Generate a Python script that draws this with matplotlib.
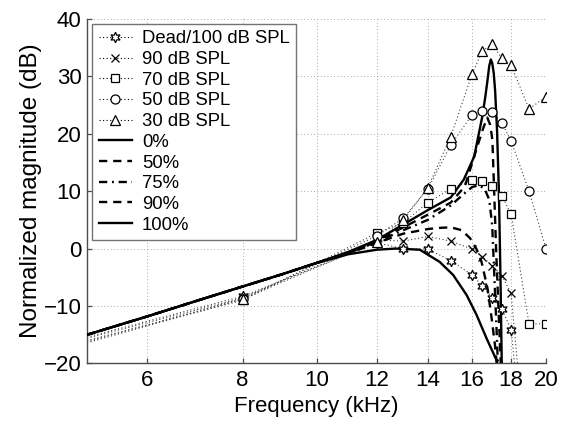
import numpy as np
import matplotlib
matplotlib.use('Agg')
import matplotlib.pyplot as plt
from matplotlib.ticker import FixedLocator, NullLocator

plt.rcParams['font.family'] = ['Liberation Sans', 'DejaVu Sans']

# measured points (kHz, dB)
f_meas = [8, 12, 13, 14, 15, 16, 16.5, 17, 17.5, 18, 19, 20]
dead = [-8.3, 1.0, 0.0, -0.1, -2.1, -4.6, -6.5, -8.6, -10.5, -14.1]
spl90 = [-8.6, 1.5, 1.3, 2.1, 1.3, -0.1, -1.4, -3.0, -4.7, -7.8]
spl70 = [-9.0, 2.7, 4.5, 8.0, 10.4, 11.9, 11.7, 10.8, 9.2, 6.0, -13.1, -13.1]
spl50 = [-8.7, 2.2, 5.3, 10.4, 18.0, 23.3, 24.0, 23.7, 21.9, 18.7, 10.0, 0.0]
spl30 = [-8.8, 1.2, 5.0, 10.6, 19.5, 30.4, 34.4, 35.6, 33.1, 31.9, 24.3, 26.4]

# where the dotted lines leave the left edge / run off the bottom
f_edge = 5
edge_dead, edge90, edge70, edge50, edge30 = -15.4, -15.6, -16.0, -16.2, -16.4
tail_dead = (18.25, -22)
tail90 = (18.4, -22)

# model curves
f_m0 = [5, 6, 7, 8, 9, 10, 11, 12, 13, 14, 15, 15.6, 16.1, 16.5, 16.65, 16.76,
        16.85, 16.93, 17.0, 17.08, 17.15, 17.25, 17.35, 17.43, 17.5]
m0 = [-15, -11.8, -9.0, -6.6, -4.5, -2.5, -0.6, 1.5, 4.2, 6.7, 8.9, 12.0, 16.0,
      23.0, 26.4, 29.3, 31.8, 32.9, 32.3, 30.5, 27.5, 20.6, 9.5, -5, -20.5]

f_m50 = [5, 6, 7, 8, 9, 10, 11, 12, 13, 14, 15, 15.65, 16.0, 16.3, 16.55,
         16.75, 16.9, 17.01, 17.1, 17.2, 17.32, 17.45]
m50 = [-15, -11.8, -9.0, -6.6, -4.5, -2.5, -0.7, 1.4, 3.7, 5.9, 8.0, 10.8, 14.9,
       18.3, 21.0, 22.8, 21.5, 18.9, 10.0, 0.0, -10.0, -20.5]

f_m75 = [5, 6, 7, 8, 9, 10, 11, 12, 13, 14, 15, 15.6, 16.0, 16.3, 16.6, 16.85,
         17.0, 17.1, 17.2, 17.3]
m75 = [-15, -11.8, -9.0, -6.6, -4.5, -2.5, -0.8, 1.2, 3.2, 5.0, 7.5, 9.5, 10.7,
       11.0, 10.5, 8.5, 4.0, -4.0, -12.0, -20.5]

f_m90 = [5, 6, 7, 8, 9, 10, 11, 12, 13, 14, 14.5, 15, 15.5, 15.9, 16.2, 16.46,
         16.76, 16.97, 17.15, 17.25]
m90 = [-15, -11.8, -9.0, -6.6, -4.5, -2.5, -0.9, 1.0, 2.6, 3.4, 3.6, 3.7, 3.2,
       1.8, 0.0, -2.3, -6.9, -12.1, -17.0, -20.5]

f_m100 = [5, 6, 7, 8, 9, 10, 11, 12, 12.7, 13.66, 14.5, 15.11, 15.73, 16.21,
          16.71, 17.22, 17.35]
m100 = [-15, -11.8, -9.0, -6.6, -4.5, -2.5, -1.0, -0.2, 0.0, -0.2, -2.3, -4.6,
        -8.05, -11.5, -15.6, -19.4, -21]

fig = plt.figure(figsize=(5.65, 4.24), dpi=100)
ax = fig.add_axes([0.154, 0.1427, 0.8124, 0.8132])

dot = dict(color='0.25', lw=0.8, dashes=(1, 2.2))
mk = dict(color='k', mfc='white', mew=0.9, ls='none')

series = [
    ('Dead/100 dB SPL', dead, edge_dead, tail_dead, (6, 1, 0), 7.5),
    ('90 dB SPL', spl90, edge90, tail90, 'x', 5.5),
    ('70 dB SPL', spl70, edge70, None, 's', 5.5),
    ('50 dB SPL', spl50, edge50, None, 'o', 6.5),
    ('30 dB SPL', spl30, edge30, None, '^', 7),
]
handles = []
for name, vals, edge, tail, marker, ms in series:
    fx = [f_edge] + f_meas[:len(vals)]
    fy = [edge] + vals
    if tail is not None:
        fx = fx + [tail[0]]
        fy = fy + [tail[1]]
    ax.plot(fx, fy, **dot)
    ax.plot(f_meas[:len(vals)], vals, marker=marker, ms=ms, zorder=4, **mk)
    h, = ax.plot([], [], marker=marker, ms=ms, color='k', mfc='white',
                 mew=0.9, lw=0.8, dashes=(1, 2.2))
    handles.append(h)

models = [
    ('0%', f_m0, m0, '-', None),
    ('50%', f_m50, m50, '--', (3.5, 2.5)),
    ('75%', f_m75, m75, '-.', (3.5, 2.0, 0.8, 2.0)),
    ('90%', f_m90, m90, '--', (3.5, 2.5)),
    ('100%', f_m100, m100, '-', None),
]
for name, fx, fy, ls, dashes in models:
    kw = dict(color='k', lw=1.7, label=name, zorder=3)
    if dashes is not None:
        h, = ax.plot(fx, fy, dashes=dashes, **kw)
    else:
        h, = ax.plot(fx, fy, ls=ls, **kw)
    handles.append(h)

ax.set_xscale('log')
ax.set_xlim(5, 20)
ax.set_ylim(-20, 40)
xt = [6, 8, 10, 12, 14, 16, 18, 20]
ax.xaxis.set_major_locator(FixedLocator(xt))
ax.xaxis.set_minor_locator(NullLocator())
ax.set_xticklabels([str(v) for v in xt])
ax.set_yticks([-20, -10, 0, 10, 20, 30, 40])

for s in ['top', 'right']:
    ax.spines[s].set_visible(False)
for s in ['left', 'bottom']:
    ax.spines[s].set_color('0.3')
    ax.spines[s].set_linewidth(1.0)
ax.tick_params(direction='in', length=3.5, width=0.9, color='0.3',
               labelsize=16, pad=5)
ax.tick_params(axis='y', pad=4)
ax.grid(True, color='0.55', lw=0.6, dashes=(1, 3))

ax.set_xlabel('Frequency (kHz)', fontsize=16, labelpad=3)
ax.set_ylabel('Normalized magnitude (dB)', fontsize=17.5, labelpad=1)

labels = [s[0] for s in series] + [m[0] for m in models]
leg = ax.legend(handles, labels, loc='upper left', bbox_to_anchor=(0.011, 0.985),
                borderaxespad=0, fontsize=13.3, numpoints=1, handlelength=1.8,
                handletextpad=0.55, labelspacing=0.2, borderpad=0.35,
                fancybox=False, framealpha=1)
leg.get_frame().set_edgecolor('0.45')
leg.get_frame().set_linewidth(1.0)

fig.savefig('out.png', dpi=100)
